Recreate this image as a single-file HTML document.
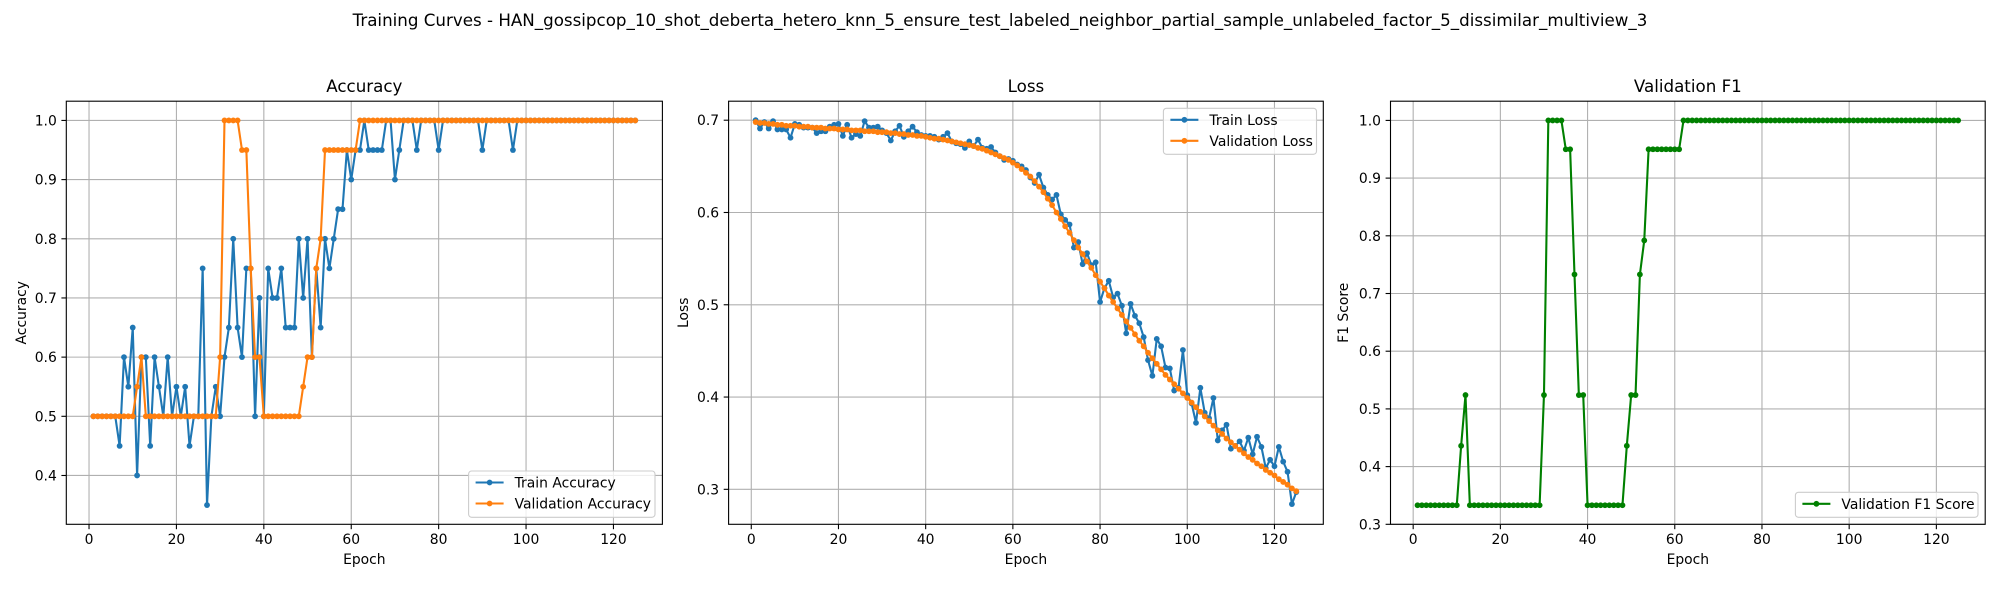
<!DOCTYPE html>
<html><head><meta charset="utf-8">
<style>
html,body{margin:0;padding:0;background:#fff;}
svg{display:block;font-family:"DejaVu Sans","Liberation Sans",sans-serif;}
</style></head>
<body>
<svg id="fig" width="2000" height="600" viewBox="0 0 2000 600" xmlns="http://www.w3.org/2000/svg">
<text x="1000" y="26" text-anchor="middle" font-size="16.7" fill="#000">Training Curves - HAN_gossipcop_10_shot_deberta_hetero_knn_5_ensure_test_labeled_neighbor_partial_sample_unlabeled_factor_5_dissimilar_multiview_3</text>
</svg>
<script>
const epochs = Array.from({length:125},(_,i)=>i+1);
const trainAcc = [0.5,0.5,0.5,0.5,0.5,0.5,0.45,0.6,0.55,0.65,
0.4,0.6,0.6,0.45,0.6,0.55,0.5,0.6,0.5,0.55,
0.5,0.55,0.45,0.5,0.5,0.75,0.35,0.5,0.55,0.5,
0.6,0.65,0.8,0.65,0.6,0.75,0.75,0.5,0.7,0.5,
0.75,0.7,0.7,0.75,0.65,0.65,0.65,0.8,0.7,0.8,
0.6,0.75,0.65,0.8,0.75,0.8,0.85,0.85,0.95,0.9,
0.95,0.95,1.0,0.95,0.95,0.95,0.95,1.0,1.0,0.9,
0.95,1.0,1.0,1.0,0.95,1.0,1.0,1.0,1.0,0.95,
1,1,1,1,1,1,1,1,1,0.95,
1,1,1,1,1,1,0.95,1,1,1,
1,1,1,1,1,1,1,1,1,1,
1,1,1,1,1,1,1,1,1,1,
1,1,1,1,1];
const valAcc = [0.5,0.5,0.5,0.5,0.5,0.5,0.5,0.5,0.5,0.5,
0.55,0.6,0.5,0.5,0.5,0.5,0.5,0.5,0.5,0.5,
0.5,0.5,0.5,0.5,0.5,0.5,0.5,0.5,0.5,0.6,
1.0,1.0,1.0,1.0,0.95,0.95,0.75,0.6,0.6,0.5,
0.5,0.5,0.5,0.5,0.5,0.5,0.5,0.5,0.55,0.6,
0.6,0.75,0.8,0.95,0.95,0.95,0.95,0.95,0.95,0.95,
0.95,1,1,1,1,1,1,1,1,1,
1,1,1,1,1,1,1,1,1,1,
1,1,1,1,1,1,1,1,1,1,
1,1,1,1,1,1,1,1,1,1,
1,1,1,1,1,1,1,1,1,1,
1,1,1,1,1,1,1,1,1,1,
1,1,1,1,1];
const trainLoss = [0.700,0.691,0.698,0.691,0.699,0.690,0.690,0.690,0.681,0.696,
0.695,0.692,0.692,0.692,0.686,0.688,0.688,0.693,0.695,0.696,
0.683,0.695,0.681,0.685,0.683,0.699,0.692,0.692,0.693,0.689,
0.686,0.678,0.688,0.694,0.682,0.688,0.693,0.687,0.684,0.683,
0.683,0.682,0.679,0.682,0.686,0.677,0.675,0.674,0.670,0.677,
0.672,0.679,0.670,0.669,0.671,0.665,0.661,0.657,0.658,0.656,
0.652,0.650,0.646,0.638,0.632,0.641,0.627,0.619,0.614,0.619,
0.598,0.592,0.587,0.562,0.568,0.544,0.556,0.543,0.546,0.503,
0.518,0.526,0.508,0.512,0.499,0.469,0.501,0.488,0.480,0.465,
0.440,0.423,0.463,0.455,0.432,0.431,0.407,0.410,0.451,0.402,
0.393,0.372,0.410,0.383,0.377,0.399,0.353,0.364,0.370,0.344,
0.347,0.352,0.342,0.356,0.338,0.357,0.346,0.323,0.332,0.325,
0.346,0.330,0.319,0.284,0.297];
const valLoss = [0.698,0.697,0.697,0.696,0.696,0.695,0.695,0.694,0.694,0.694,
0.693,0.693,0.693,0.692,0.692,0.692,0.691,0.691,0.691,0.690,
0.690,0.690,0.689,0.689,0.689,0.688,0.688,0.688,0.687,0.687,
0.687,0.686,0.686,0.685,0.685,0.684,0.684,0.683,0.683,0.682,
0.681,0.680,0.680,0.679,0.678,0.677,0.676,0.675,0.674,0.673,
0.672,0.670,0.669,0.667,0.665,0.663,0.661,0.659,0.657,0.654,
0.651,0.647,0.643,0.639,0.634,0.628,0.622,0.615,0.608,0.600,
0.593,0.585,0.578,0.570,0.562,0.555,0.547,0.540,0.532,0.525,
0.518,0.510,0.503,0.496,0.489,0.482,0.475,0.468,0.461,0.455,
0.448,0.442,0.436,0.430,0.424,0.419,0.414,0.409,0.404,0.399,
0.394,0.389,0.384,0.379,0.374,0.369,0.364,0.360,0.355,0.351,
0.347,0.343,0.339,0.335,0.332,0.328,0.325,0.321,0.318,0.315,
0.311,0.308,0.305,0.301,0.298];
const valF1 = [0.333,0.333,0.333,0.333,0.333,0.333,0.333,0.333,0.333,0.333,
0.436,0.524,0.333,0.333,0.333,0.333,0.333,0.333,0.333,0.333,
0.333,0.333,0.333,0.333,0.333,0.333,0.333,0.333,0.333,0.524,
1.0,1.0,1.0,1.0,0.95,0.95,0.733,0.524,0.524,0.333,
0.333,0.333,0.333,0.333,0.333,0.333,0.333,0.333,0.436,0.524,
0.524,0.733,0.792,0.95,0.95,0.95,0.95,0.95,0.95,0.95,
0.95,1,1,1,1,1,1,1,1,1,
1,1,1,1,1,1,1,1,1,1,
1,1,1,1,1,1,1,1,1,1,
1,1,1,1,1,1,1,1,1,1,
1,1,1,1,1,1,1,1,1,1,
1,1,1,1,1,1,1,1,1,1,
1,1,1,1,1];
const xTicks = [0,20,40,60,80,100,120];
const accTicks = [0.4,0.5,0.6,0.7,0.8,0.9,1.0];
const lossTicks = [0.3,0.4,0.5,0.6,0.7];
const f1Ticks = [0.3,0.4,0.5,0.6,0.7,0.8,0.9,1.0];

const NS = "http://www.w3.org/2000/svg";
const svg = document.getElementById('fig');
function mk(tag, attrs, parent){
  const e = document.createElementNS(NS, tag);
  for (const k in attrs) e.setAttribute(k, attrs[k]);
  (parent||svg).appendChild(e);
  return e;
}
const TOP=101.2, BOT=524.3;

function panel(cfg){
  const g = mk('g',{});
  
  
  const xmin=-5.2, xmax=131.2;
  const X = v => cfg.left + (v-xmin)/(xmax-xmin)*(cfg.right-cfg.left);
  const Y = v => BOT - (v-cfg.ymin)/(cfg.ymax-cfg.ymin)*(BOT-TOP);
  // grid
  xTicks.forEach(t=>{
    const l = mk('line',{x1:X(t),x2:X(t),y1:TOP,y2:BOT,stroke:'#b0b0b0','stroke-width':1.1},g);
    
    
    const tk = mk('line',{x1:X(t),x2:X(t),y1:BOT,y2:BOT+4.9,stroke:'#000','stroke-width':1.1},g);
    
    
    const tx = mk('text',{x:X(t),y:BOT+19.5,'text-anchor':'middle','font-size':13.9},g);
    
    
    tx.textContent = t;
  });
  cfg.ticks.forEach(t=>{
    const l = mk('line',{x1:cfg.left,x2:cfg.right,y1:Y(t),y2:Y(t),stroke:'#b0b0b0','stroke-width':1.1},g);
    
    
    const tk = mk('line',{x1:cfg.left-4.9,x2:cfg.left,y1:Y(t),y2:Y(t),stroke:'#000','stroke-width':1.1},g);
    
    
    const tx = mk('text',{x:cfg.left-9.5,y:Y(t)+5,'text-anchor':'end','font-size':13.9},g);
    
    
    tx.textContent = t.toFixed(1);
  });
  // series
  cfg.series.forEach(s=>{
    const pts = epochs.map((e,i)=>X(e).toFixed(2)+','+Y(s.data[i]).toFixed(2)).join(' ');
    const pl = mk('polyline',{points:pts,fill:'none',stroke:s.color,'stroke-width':2.1,'stroke-linejoin':'round'},g);
    
    
    epochs.forEach((e,i)=>{
      const c = mk('circle',{cx:X(e),cy:Y(s.data[i]),r:2.9,fill:s.color},g);
      
      
    });
  });
  // frame
  const fr = mk('rect',{x:cfg.left,y:TOP,width:cfg.right-cfg.left,height:BOT-TOP,fill:'none',stroke:'#000','stroke-width':1.1},g);
  
  
  const ti = mk('text',{x:(cfg.left+cfg.right)/2,y:92,'text-anchor':'middle','font-size':16.7},g);
  
  
  ti.textContent = cfg.title;
  const xl = mk('text',{x:(cfg.left+cfg.right)/2,y:564,'text-anchor':'middle','font-size':13.9},g);
  
  
  xl.textContent = 'Epoch';
  const yl = mk('text',{x:0,y:0,'text-anchor':'middle','font-size':13.9,transform:`translate(${cfg.ylx},${(TOP+BOT)/2}) rotate(-90)`},g);
  
  
  yl.textContent = cfg.ylabel;
  // legend
  const L = cfg.legend;
  const lg = mk('g',{},g);
  
  
  mk('rect',{x:L.x,y:L.y,width:L.w,height:L.h,rx:3,fill:'#fff','fill-opacity':0.8,stroke:'#cccccc','stroke-width':1.1},lg);
  cfg.series.forEach((s,i)=>{
    const yy = L.y + 11.5 + i*21;
    const ent = mk('g',{},lg);
    
    
    mk('line',{x1:L.x+7,x2:L.x+35,y1:yy,y2:yy,stroke:s.color,'stroke-width':2.1},ent);
    mk('circle',{cx:L.x+21,cy:yy,r:2.9,fill:s.color},ent);
    const t = mk('text',{x:L.x+46,y:yy+5,'font-size':13.9},ent);
    t.textContent = s.label;
  });
}

panel({name:'accuracy',title:'Accuracy',ylabel:'Accuracy',left:66.3,right:662.4,ymin:0.3175,ymax:1.0325,ticks:accTicks,ylx:26,
  series:[{key:'train-accuracy',label:'Train Accuracy',color:'#1f77b4',data:trainAcc},
          {key:'validation-accuracy',label:'Validation Accuracy',color:'#ff7f0e',data:valAcc}],
  legend:{x:468.6,y:471,w:186.4,h:46.3}});
panel({name:'loss',title:'Loss',ylabel:'Loss',left:728.6,right:1323.3,ymin:0.2621,ymax:0.7206,ticks:lossTicks,ylx:688,
  series:[{key:'train-loss',label:'Train Loss',color:'#1f77b4',data:trainLoss},
          {key:'validation-loss',label:'Validation Loss',color:'#ff7f0e',data:valLoss}],
  legend:{x:1163.4,y:108.3,w:153.1,h:46}});
panel({name:'validation-f1',title:'Validation F1',ylabel:'F1 Score',left:1390.5,right:1985.2,ymin:0.3,ymax:1.0333,ticks:f1Ticks,ylx:1348,
  series:[{key:'validation-f1',label:'Validation F1 Score',color:'#008000',data:valF1}],
  legend:{x:1795.4,y:492.3,w:182.6,h:25}});
</script>
</body></html>
